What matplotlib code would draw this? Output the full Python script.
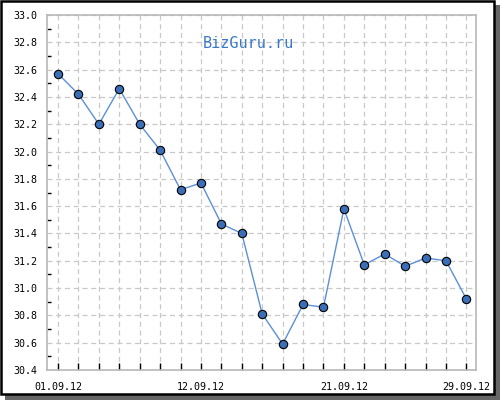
import numpy as np
import matplotlib
matplotlib.use('Agg')
import matplotlib.pyplot as plt
from matplotlib.patches import Rectangle
from matplotlib.ticker import MultipleLocator

# daily values, 01.09.12 .. 29.09.12
values = [32.57, 32.42, 32.20, 32.46, 32.20, 32.01, 31.72, 31.77, 31.47, 31.40,
          30.81, 30.59, 30.88, 30.86, 31.58, 31.17, 31.25, 31.16, 31.22, 31.20, 30.92]
label_pos = [0, 7, 14, 20]
label_txt = ['01.09.12', '12.09.12', '21.09.12', '29.09.12']

x = np.arange(len(values))

fig = plt.figure(figsize=(5, 4), dpi=100)

# frame with drop shadow (behind the axes)
fig.patches.append(Rectangle((0.988, 0.0), 0.012, 0.9875, transform=fig.transFigure,
                             facecolor='#666666', edgecolor='none', zorder=-3))
fig.patches.append(Rectangle((0.01, 0.0), 0.99, 0.0135, transform=fig.transFigure,
                             facecolor='#666666', edgecolor='none', zorder=-3))
fig.patches.append(Rectangle((0.002, 0.016), 0.985, 0.982, transform=fig.transFigure,
                             facecolor='white', edgecolor='black', linewidth=1.8, zorder=-2))

ax = fig.add_axes([0.094, 0.075, 0.858, 0.8875])
ax.set_facecolor('white')

ax.plot(x, values, color='#5b8fd8', linewidth=1, zorder=3)
ax.plot(x, values, 'o', markersize=6, markerfacecolor='#3a6fb8',
        markeredgecolor='black', markeredgewidth=0.8, zorder=4)

ax.set_xlim(-0.54, 20.47)
ax.set_ylim(30.4, 33.0)

ax.set_xticks(x)
ax.set_xticklabels([label_txt[label_pos.index(i)] if i in label_pos else '' for i in x],
                   fontsize=7.2, family='DejaVu Sans Mono')
ax.yaxis.set_major_locator(MultipleLocator(0.2))
ax.yaxis.set_minor_locator(MultipleLocator(0.1))
ax.set_yticks(ax.get_yticks())
ax.set_yticklabels(['%.1f' % v for v in ax.get_yticks()], fontsize=7.2,
                   family='DejaVu Sans Mono')
ax.set_ylim(30.4, 33.0)

ax.tick_params(axis='x', direction='in', length=5, width=1, color='black', pad=9)
ax.tick_params(axis='y', which='major', direction='in', length=0, pad=7)
ax.tick_params(axis='y', which='minor', direction='in', length=3, width=1, color='black')

ax.grid(True, which='major', linestyle=(0, (4, 3)), color='#c8c8c8', linewidth=0.9)
ax.set_axisbelow(True)
for s in ax.spines.values():
    s.set_color('#b8b8b8')
    s.set_linewidth(1.2)

ax.text(0.47, 0.92, 'BizGuru.ru', transform=ax.transAxes, ha='center', va='center',
        fontsize=11, family='DejaVu Sans Mono', color='#3a78c8')

fig.savefig('out.png', dpi=100)
